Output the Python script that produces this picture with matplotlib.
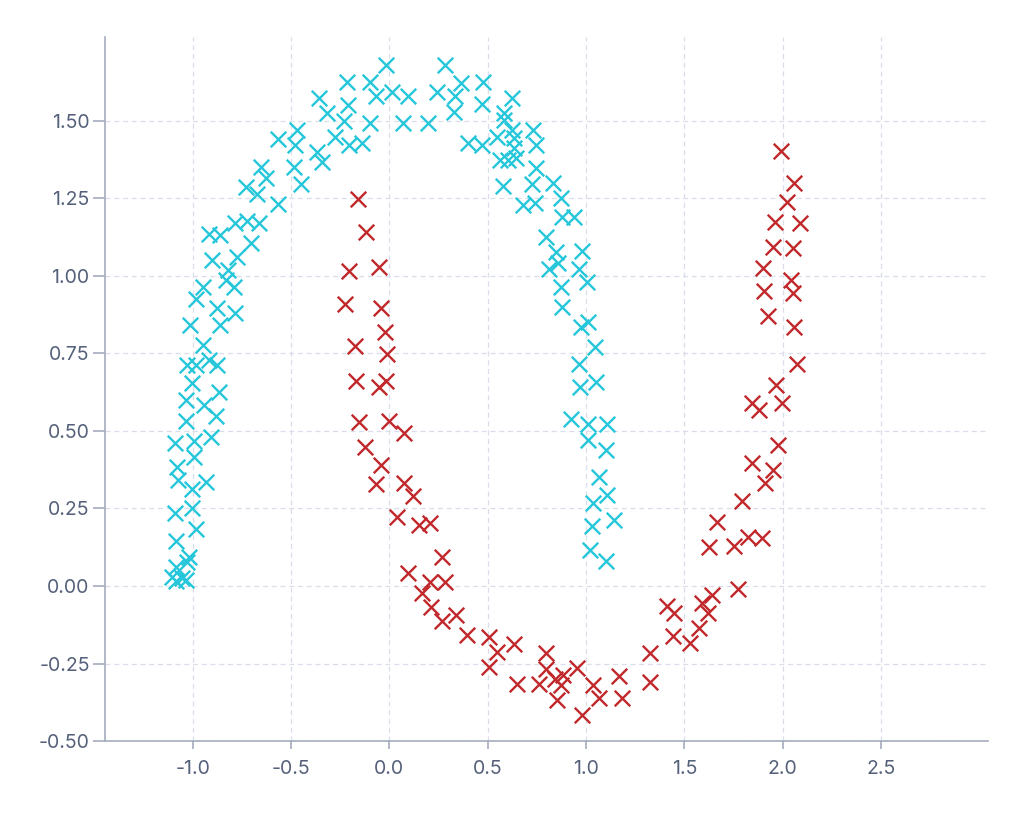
import numpy as np
import matplotlib
matplotlib.use("Agg")
import matplotlib.pyplot as plt

plt.rcParams['font.family'] = ['Inter', 'DejaVu Sans']
plt.rcParams['axes.unicode_minus'] = False

# upper moon (cyan)
cyan_x = [-0.015, -0.214, -0.097, -0.066, 0.015, -0.356, -0.209, -0.316, -0.229, -0.097,
          -0.468, -0.565, -0.478, -0.275, -0.204, -0.137, -0.366, -0.341, -0.483, -0.651,
          -0.626, -0.448, -0.728, -0.672, -0.565, -0.916, -0.860, -0.784, -0.723, -0.662,
          -0.702, -0.774, -0.901, -0.819, -0.830, -0.947, -0.789, -0.982, -0.875, -0.784,
          -1.013, -0.860, -0.947,
          -1.028, -0.982, -0.916, -0.875, -1.003, -0.865, -1.033, -0.941, -0.880, -1.033,
          -1.089, -0.992, -0.906, -0.992, -1.079, -1.074, -1.003, -0.931, -1.089, -1.003,
          -0.982, -1.084, -1.018, -1.084, -1.028, -1.104, -1.053, -1.084, -1.033,
          0.285, 0.366, 0.478, 0.092, 0.244, 0.336, 0.473, 0.626, 0.331, 0.071,
          0.198, 0.585, 0.585, 0.626, 0.728, 0.402, 0.473, 0.545, 0.636, 0.748,
          0.636, 0.560, 0.601, 0.646, 0.748, 0.580, 0.723, 0.830, 0.875, 0.682,
          0.738, 0.880, 0.941,
          0.794, 0.845, 0.982, 0.814, 0.855, 0.962, 1.003, 0.875, 0.880, 0.972,
          1.008, 1.048, 0.962, 0.967, 1.053, 0.926, 1.008, 1.109, 1.008, 1.104,
          1.064, 1.109, 1.038, 1.140, 1.028, 1.018, 1.104]
cyan_y = [1.681, 1.626, 1.626, 1.581, 1.594, 1.574, 1.552, 1.526, 1.500, 1.494,
          1.471, 1.442, 1.423, 1.448, 1.423, 1.429, 1.400, 1.368, 1.352, 1.352,
          1.316, 1.297, 1.287, 1.265, 1.232, 1.135, 1.132, 1.171, 1.177, 1.171,
          1.106, 1.061, 1.052, 1.019, 0.987, 0.965, 0.965, 0.926, 0.897, 0.881,
          0.842, 0.842, 0.777,
          0.713, 0.713, 0.729, 0.713, 0.655, 0.626, 0.600, 0.584, 0.548, 0.532,
          0.461, 0.468, 0.481, 0.416, 0.384, 0.342, 0.313, 0.335, 0.235, 0.252,
          0.184, 0.145, 0.094, 0.061, 0.077, 0.029, 0.026, 0.016, 0.019,
          1.681, 1.623, 1.626, 1.581, 1.594, 1.581, 1.555, 1.574, 1.529, 1.494,
          1.494, 1.526, 1.503, 1.471, 1.471, 1.429, 1.423, 1.448, 1.445, 1.423,
          1.413, 1.374, 1.374, 1.381, 1.348, 1.290, 1.297, 1.300, 1.252, 1.229,
          1.235, 1.190, 1.190,
          1.126, 1.077, 1.081, 1.023, 1.042, 1.023, 0.981, 0.965, 0.900, 0.835,
          0.852, 0.771, 0.716, 0.642, 0.658, 0.539, 0.523, 0.523, 0.471, 0.439,
          0.352, 0.294, 0.268, 0.213, 0.194, 0.116, 0.081]

# lower moon (red)
red_x = [-0.158, -0.117, -0.204, -0.051, -0.224, -0.041, -0.020, -0.173, -0.010,
         -0.168, -0.051, -0.015, -0.153, 0.000, 0.076, -0.122, -0.041, -0.066, 0.076,
         0.122, 0.041, 0.148, 0.204, 0.265, 0.092, 0.204, 0.285, 0.168, 0.214,
         0.265, 0.341, 0.397,
         0.504, 0.545, 0.636, 0.504, 0.651, 0.799, 0.794, 0.763, 0.885, 0.840,
         0.875, 0.850, 0.952, 1.033, 1.064, 0.982, 1.170, 1.181, 1.323, 1.323,
         1.410, 1.450, 1.445, 1.527, 1.573, 1.588, 1.618, 1.639, 1.771, 1.628,
         1.751, 1.822, 1.893, 1.664, 1.791, 1.908, 1.949, 1.842, 1.975, 1.842,
         1.878, 1.995, 1.964, 2.071,
         1.990, 2.056, 2.020, 1.959, 2.087, 1.949, 2.051, 1.898, 2.041, 2.051,
         1.903, 1.924, 2.056]
red_y = [1.248, 1.142, 1.016, 1.029, 0.910, 0.897, 0.819, 0.774, 0.748,
         0.661, 0.642, 0.661, 0.529, 0.532, 0.494, 0.448, 0.390, 0.329, 0.332,
         0.290, 0.223, 0.197, 0.203, 0.094, 0.042, 0.013, 0.013, -0.023, -0.068,
         -0.113, -0.094, -0.158,
         -0.165, -0.213, -0.187, -0.261, -0.316, -0.216, -0.268, -0.316, -0.287, -0.300,
         -0.319, -0.368, -0.265, -0.319, -0.361, -0.416, -0.290, -0.361, -0.216, -0.310,
         -0.065, -0.087, -0.161, -0.184, -0.135, -0.055, -0.087, -0.029, -0.010, 0.126,
         0.129, 0.158, 0.155, 0.206, 0.274, 0.332, 0.374, 0.397, 0.455, 0.590,
         0.568, 0.590, 0.648, 0.716,
         1.403, 1.300, 1.239, 1.174, 1.171, 1.094, 1.090, 1.026, 0.987, 0.945,
         0.952, 0.871, 0.835]

x_ticks = [-1.0, -0.5, 0.0, 0.5, 1.0, 1.5, 2.0, 2.5]
y_ticks = [-0.50, -0.25, 0.00, 0.25, 0.50, 0.75, 1.00, 1.25, 1.50]

fig = plt.figure(figsize=(10.26, 8.16), dpi=100)
ax = fig.add_axes([0.1023, 0.0919, 0.8607, 0.8628])

ax.scatter(cyan_x, cyan_y, marker='x', s=125, linewidths=1.7, color='#26c6da', zorder=3)
ax.scatter(red_x, red_y, marker='x', s=125, linewidths=1.7, color='#c0282b', zorder=3)

ax.set_xlim(-1.447, 3.045)
ax.set_ylim(-0.5, 1.771)
ax.set_xticks(x_ticks)
ax.set_xticklabels([f"{v:.1f}" for v in x_ticks])
ax.set_yticks(y_ticks)
ax.set_yticklabels([f"{v:.2f}" for v in y_ticks])

ax.grid(True, linestyle=(0, (4, 3)), color='#d9deea', linewidth=0.9, zorder=0)
ax.set_axisbelow(True)

for s in ['top', 'right']:
    ax.spines[s].set_visible(False)
for s in ['left', 'bottom']:
    ax.spines[s].set_color('#a4acbd')
    ax.spines[s].set_linewidth(1.2)

ax.tick_params(axis='y', length=9, width=1.2, color='#a4acbd', labelsize=14,
               labelcolor='#55607a', pad=2)
ax.tick_params(axis='x', length=6, width=1.2, color='#a4acbd', labelsize=14,
               labelcolor='#55607a', pad=8)

fig.savefig('out.png', dpi=100)
